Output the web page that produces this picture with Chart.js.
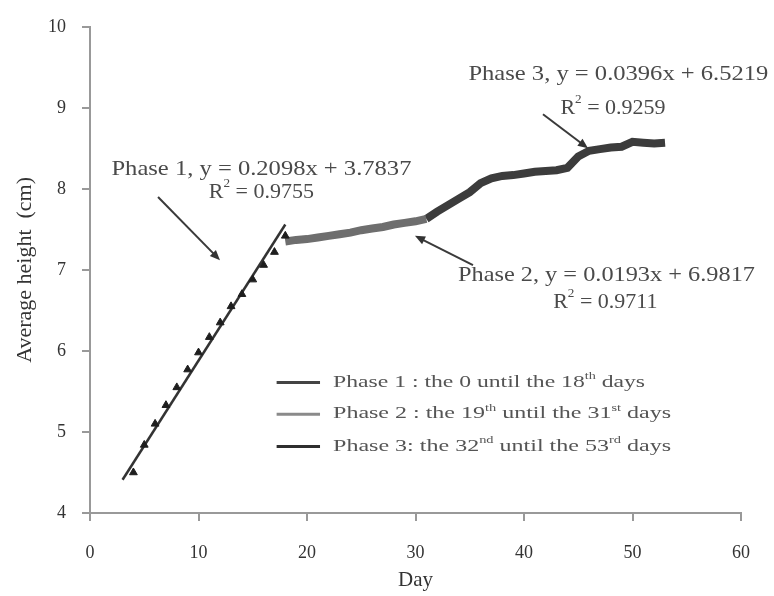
<!DOCTYPE html>
<html>
<head>
<meta charset="utf-8">
<script src="https://cdn.jsdelivr.net/npm/chart.js@4"></script>
<style>
  html, body { margin: 0; padding: 0; background: #fff; }
</style>
</head>
<body>
<canvas id="myChart" width="774" height="596"></canvas>
<script>
let phase1Days = [4, 5, 6, 7, 8, 9, 10, 11, 12, 13, 14, 15, 16, 17, 18];
let phase1Height = [4.5, 4.84, 5.1, 5.33, 5.55, 5.77, 5.98, 6.17, 6.35, 6.55, 6.7, 6.88, 7.06, 7.22, 7.42];

let phase2Days = [18, 19, 20, 21, 22, 23, 24, 25, 26, 27, 28, 29, 30, 31];
let phase2Height = [7.35, 7.37, 7.38, 7.4, 7.42, 7.44, 7.46, 7.49, 7.51, 7.53, 7.56, 7.58, 7.6, 7.63];

let phase3Days = [31, 32, 33, 34, 35, 36, 37, 38, 39, 40, 41, 42, 43, 44, 45, 46, 47, 48, 49, 50, 51, 52, 53];
let phase3Height = [7.63, 7.72, 7.8, 7.88, 7.96, 8.07, 8.13, 8.16, 8.17, 8.19, 8.21, 8.22, 8.23, 8.26, 8.4, 8.47, 8.49, 8.51, 8.52, 8.58, 8.57, 8.56, 8.57];

// fitted line of phase 1, end points
let trend1Days = [3, 18];
let trend1Height = [4.41, 7.56];

let xTicks = [0, 10, 20, 30, 40, 50, 60];
let yTicks = [4, 5, 6, 7, 8, 9, 10];

let legendRows = [
  [['Phase 1 : the 0 until the 18'], ['th', true], [' days']],
  [['Phase 2 : the 19'], ['th', true], [' until the 31'], ['st', true], [' days']],
  [['Phase 3: the 32'], ['nd', true], [' until the 53'], ['rd', true], [' days']]
];

const serif = '"Liberation Serif", "Times New Roman", serif';

function pts(xs, ys) {
  return xs.map((d, i) => ({x: d, y: ys[i]}));
}

// draws text pieces (with superscripts), squeezed to a given width
function drawParts(ctx, parts, x, y, size, width, align) {
  let total = 0;
  parts.forEach(p => {
    ctx.font = (p[1] ? size * 0.6 : size) + 'px ' + serif;
    total += ctx.measureText(p[0]).width;
  });
  let sx = width ? width / total : 1;
  let x0 = align === 'left' ? x : x - total * sx / 2;
  ctx.save();
  ctx.translate(x0, y);
  ctx.scale(sx, 1);
  ctx.textBaseline = 'middle';
  ctx.textAlign = 'left';
  let cx = 0;
  parts.forEach(p => {
    ctx.font = (p[1] ? size * 0.6 : size) + 'px ' + serif;
    ctx.fillText(p[0], cx, p[1] ? -size * 0.38 : 0);
    cx += ctx.measureText(p[0]).width;
  });
  ctx.restore();
}

function arrow(ctx, x1, y1, x2, y2) {
  let a = Math.atan2(y2 - y1, x2 - x1);
  let h = 11;
  ctx.beginPath();
  ctx.moveTo(x1, y1);
  ctx.lineTo(x2 - Math.cos(a) * h * 0.8, y2 - Math.sin(a) * h * 0.8);
  ctx.stroke();
  ctx.beginPath();
  ctx.moveTo(x2, y2);
  ctx.lineTo(x2 - h * Math.cos(a - 0.4), y2 - h * Math.sin(a - 0.4));
  ctx.lineTo(x2 - h * Math.cos(a + 0.4), y2 - h * Math.sin(a + 0.4));
  ctx.closePath();
  ctx.fill();
}

const notes = {
  id: 'notes',
  afterDatasetsDraw(chart) {
    const {ctx, scales: {x, y}} = chart;
    const px = v => x.getPixelForValue(v);
    const py = v => y.getPixelForValue(v);
    ctx.save();
    ctx.fillStyle = '#4a4a4a';
    ctx.strokeStyle = '#3a3a3a';
    ctx.lineWidth = 2;

    // equations
    drawParts(ctx, [['Phase 1, y = 0.2098x + 3.7837']], px(15.8), py(8.24), 22, 300);
    drawParts(ctx, [['R'], ['2', true], [' = 0.9755']], px(15.8), py(7.96), 22);
    drawParts(ctx, [['Phase 3, y = 0.0396x + 6.5219']], px(48.7), py(9.41), 22, 300);
    drawParts(ctx, [['R'], ['2', true], [' = 0.9259']], px(48.2), py(9.0), 22);
    drawParts(ctx, [['Phase 2, y = 0.0193x + 6.9817']], px(47.6), py(6.93), 22, 297);
    drawParts(ctx, [['R'], ['2', true], [' = 0.9711']], px(47.5), py(6.6), 22);

    ctx.fillStyle = '#333';
    arrow(ctx, px(6.27), py(7.9), px(11.98), py(7.12));
    arrow(ctx, px(41.75), py(8.92), px(45.9), py(8.5));
    arrow(ctx, px(35.3), py(7.06), px(29.95), py(7.42));

    // legend
    let rowY = [5.61, 5.22, 4.82];
    let rowW = [312, 338, 338];
    let rowColor = ['#444', '#8a8a8a', '#2e2e2e'];
    legendRows.forEach((row, i) => {
      ctx.strokeStyle = rowColor[i];
      ctx.lineWidth = 3;
      ctx.beginPath();
      ctx.moveTo(px(17.2), py(rowY[i]));
      ctx.lineTo(px(21.2), py(rowY[i]));
      ctx.stroke();
      ctx.fillStyle = '#555';
      drawParts(ctx, row, px(22.4), py(rowY[i]), 16, rowW[i], 'left');
    });
    ctx.restore();
  }
};

let ctx = document.getElementById('myChart').getContext('2d');

let chart = new Chart(ctx, {
  type: 'scatter',
  data: {
    datasets: [
      {
        label: 'Phase 1',
        data: pts(phase1Days, phase1Height),
        showLine: false,
        borderColor: '#1e1e1e',
        backgroundColor: '#1e1e1e',
        pointStyle: 'triangle',
        pointRadius: 4.5,
        pointBorderWidth: 1
      },
      {
        label: 'Trend 1',
        data: pts(trend1Days, trend1Height),
        showLine: true,
        borderColor: '#333',
        borderWidth: 2.5,
        pointRadius: 0
      },
      {
        label: 'Phase 2',
        data: pts(phase2Days, phase2Height),
        showLine: true,
        borderColor: '#6e6e6e',
        borderWidth: 8,
        pointRadius: 0
      },
      {
        label: 'Phase 3',
        data: pts(phase3Days, phase3Height),
        showLine: true,
        borderColor: '#3c3c3c',
        borderWidth: 8,
        pointRadius: 0
      }
    ]
  },
  options: {
    responsive: false,
    animation: false,
    devicePixelRatio: 1,
    layout: {
      padding: {top: 20, right: 33, left: 0, bottom: 0}
    },
    plugins: {
      legend: {display: false},
      tooltip: {enabled: false}
    },
    scales: {
      x: {
        type: 'linear',
        min: 0,
        max: 60,
        afterFit: s => { s.height = 83; },
        afterBuildTicks: s => { s.ticks = xTicks.map(v => ({value: v})); },
        grid: {drawOnChartArea: false, tickLength: 8, color: '#999', lineWidth: 2},
        border: {color: '#999', width: 2},
        ticks: {color: '#333', padding: 21, font: {family: serif, size: 18}},
        title: {display: true, text: 'Day', color: '#333', font: {family: serif, size: 21}, padding: {top: 0, bottom: 3}}
      },
      y: {
        min: 4,
        max: 10,
        afterFit: s => { s.width = 90; },
        afterBuildTicks: s => { s.ticks = yTicks.map(v => ({value: v})); },
        grid: {drawOnChartArea: false, tickLength: 8, color: '#999', lineWidth: 2},
        border: {color: '#999', width: 2},
        ticks: {color: '#333', padding: 16, font: {family: serif, size: 18}},
        title: {display: true, text: 'Average height  (cm)', color: '#333', font: {family: serif, size: 22}, padding: {top: 12, bottom: 0}}
      }
    }
  },
  plugins: [notes]
});
</script>
</body>
</html>
